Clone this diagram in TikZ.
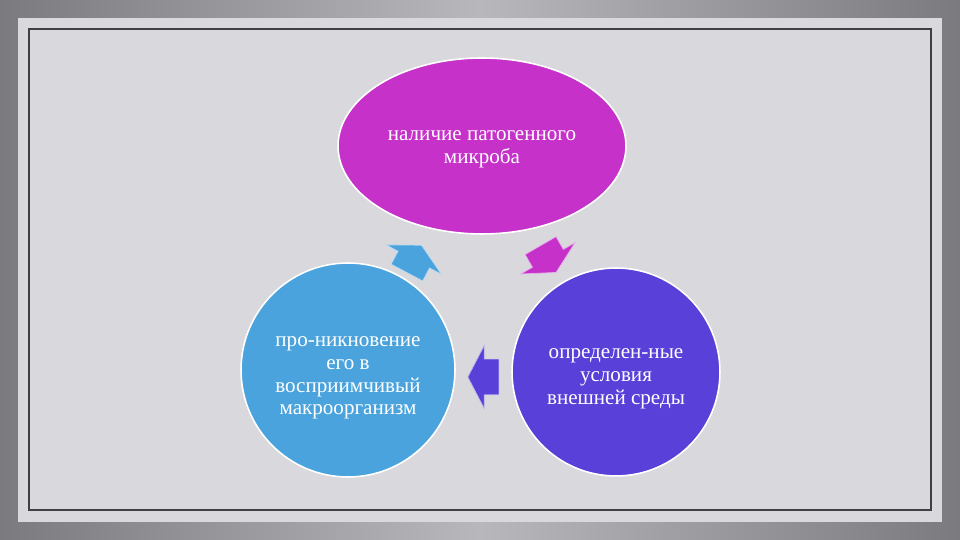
\documentclass[tikz,border=0pt]{standalone}
\usepackage{fontspec}
\setmainfont{Liberation Serif}
\usetikzlibrary{shapes.geometric,shapes.arrows,calc}

\definecolor{frame}{HTML}{7A7A7F}
\definecolor{frameMid}{HTML}{B8B8BC}
\definecolor{panel}{HTML}{D9D9DD}
\definecolor{microbe}{HTML}{C531C9}
\definecolor{host}{HTML}{4AA3DD}
\definecolor{milieu}{HTML}{5840D8}

\tikzset{
  blob/.style={draw=white,line width=0.9pt,inner sep=0pt},
  caption/.style={text=white,align=center,inner sep=0pt,font=\fontsize{12}{13}\selectfont},
  cyclearrow/.style={single arrow,fill=#1,draw=white!60!#1,line width=0.4pt,inner xsep=0pt,inner ysep=0.35cm,
    minimum height=0.62cm,single arrow head extend=0.27cm,single arrow tip angle=125}
}

\begin{document}
\begin{tikzpicture}[x=0.02cm,y=0.02cm]
\useasboundingbox (0,0) rectangle (960,540);
\shade[left color=frame,right color=frame,middle color=frameMid] (0,0) rectangle (960,540);
\fill[panel] (18,18) rectangle (942,522);
\draw[black!75,line width=0.6pt] (29,30) rectangle (931,511);

\node[blob,ellipse,fill=microbe,minimum width=5.76cm,minimum height=3.52cm] (top) at (482,394) {};
\node[blob,circle,fill=host,minimum size=4.28cm] (left) at (348,170) {};
\node[blob,circle,fill=milieu,minimum size=4.16cm] (right) at (616,168) {};

% the cycle
\node[cyclearrow=microbe,rotate=-60] (top to right) at ($(top)!0.5!(right)+(-3,4)$) {};
\node[cyclearrow=milieu,rotate=180] (right to left) at ($(right)!0.5!(left)+(6,-6)$) {};
\node[cyclearrow=host,rotate=62] (left to top) at ($(left)!0.5!(top)+(-3,-5)$) {};

\node[caption] (top text) at ($(top)+(0,-3)$) {наличие патогенного\\микроба};
\node[caption] (left text) at ($(left)+(0,-8)$) {про-никновение\\его в\\восприимчивый\\макроорганизм};
\node[caption] (right text) at ($(right)+(0,-7)$) {определен-ные\\условия\\внешней среды};
\end{tikzpicture}
\end{document}
